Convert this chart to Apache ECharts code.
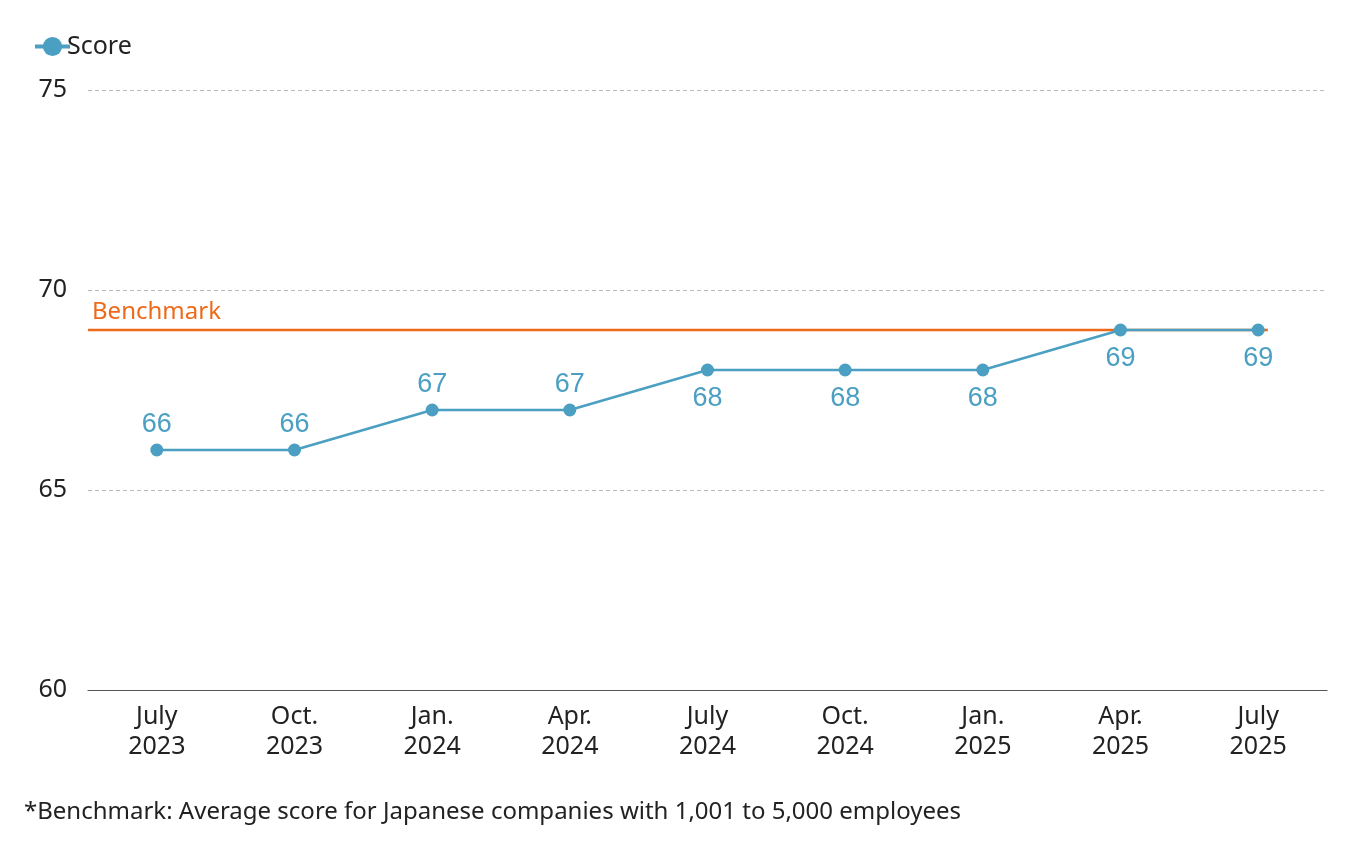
<!DOCTYPE html>
<html><head><meta charset="utf-8">
<script src="https://cdn.jsdelivr.net/npm/echarts@6/dist/echarts.min.js"></script>
<style>html,body{margin:0;padding:0;background:#fff}#c{width:1360px;height:852px}</style>
</head><body><div id="c"></div>
<script>
const categories = ['July\n2023','Oct.\n2023','Jan.\n2024','Apr.\n2024','July\n2024','Oct.\n2024','Jan.\n2025','Apr.\n2025','July\n2025'];
const scores = [66,66,67,67,68,68,68,69,69];
const labelPos = ['top','top','top','top','bottom','bottom','bottom','bottom','bottom'];
const benchmark = 69;
const yTicks = [60,65,70,75];

const font = '"Noto Sans","Open Sans",sans-serif';
const blue = '#4a9fc2';
const orange = '#ee6a1a';

const chart = echarts.init(document.getElementById('c'));
chart.setOption({
  animation:false,
  textStyle:{fontFamily:font},
  legend:{
    left:33, top:34, padding:0, itemWidth:35, itemHeight:24, itemGap:10,
    lineStyle:{width:4},
    textStyle:{fontSize:25, color:'#222', fontFamily:font, padding:[0,0,0,-8]},
    data:['Score']
  },
  graphic:[{type:'text', left:24, top:800, style:{text:'*Benchmark: Average score for Japanese companies with 1,001 to 5,000 employees', fontSize:24, fill:'#222', fontFamily:'Noto Sans'}}],
  grid:{left:88, right:33, top:90, bottom:162},
  xAxis:[{
    type:'category', data:categories, boundaryGap:true,
    axisLine:{lineStyle:{color:'#555', width:1.2}}, axisTick:{show:false},
    axisLabel:{fontSize:25, color:'#222', lineHeight:30, margin:12, fontFamily:font}
  },{
    type:'value', show:false, min:0, max:categories.length
  }],
  yAxis:{
    type:'value', min:yTicks[0], max:yTicks[yTicks.length-1], interval:5,
    axisLine:{show:false}, axisTick:{show:false},
    axisLabel:{fontSize:25, color:'#222', margin:21, fontFamily:font},
    splitLine:{lineStyle:{color:'#bbb', type:[4,3], width:1}}
  },
  series:[{
    name:'Benchmark', type:'line', xAxisIndex:1, symbol:'circle', symbolSize:0, silent:true,
    data:[{value:[0,benchmark], label:{show:true, formatter:'Benchmark', color:orange, fontSize:24, fontFamily:font, position:'right', offset:[-1,-18]}},
          [categories.length-0.43,benchmark]],
    lineStyle:{color:orange, width:2.5},
    itemStyle:{color:orange},
    z:1
  },{
    name:'Score', type:'line', data:scores.map((v,i)=>({value:v, label:{position:labelPos[i], distance:labelPos[i]==='top'?5:9}})),
    color:blue, symbol:'circle', symbolSize:13,
    lineStyle:{color:blue, width:2.5},
    itemStyle:{color:blue},
    label:{show:true, fontSize:27, color:blue, fontFamily:'"Liberation Sans",Arial,sans-serif'},
    z:3
  }]
});
</script></body></html>
